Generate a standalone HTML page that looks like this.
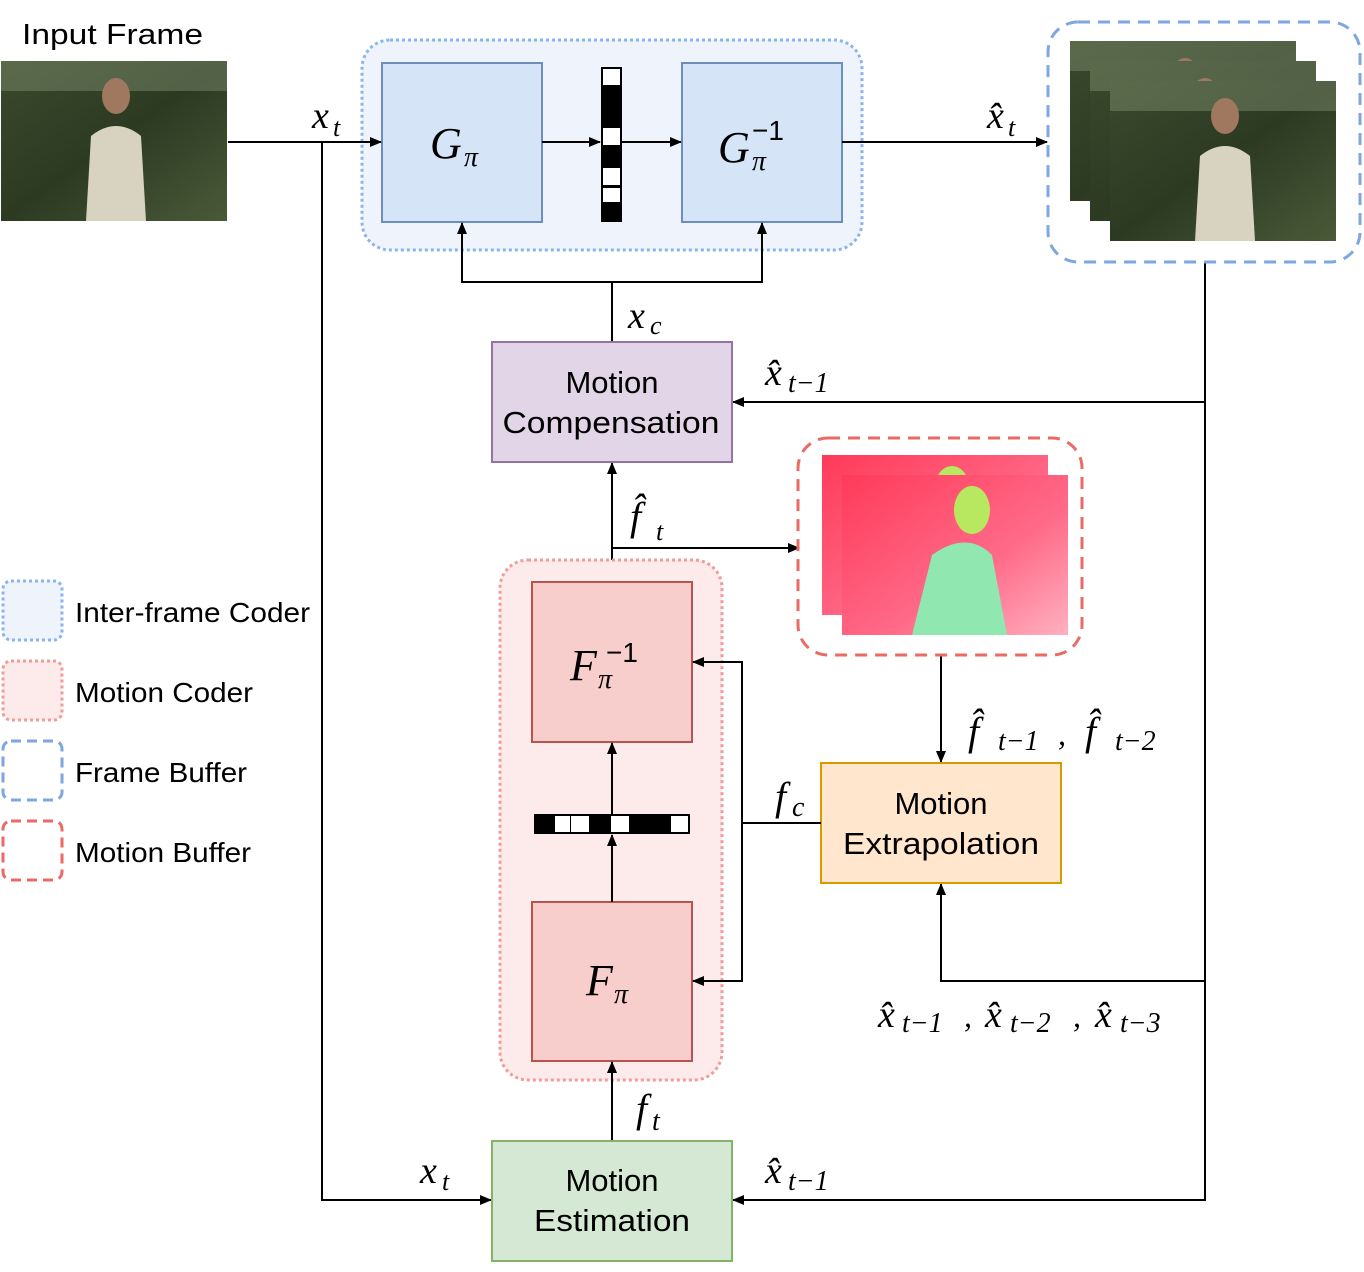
<!DOCTYPE html>
<html><head><meta charset="utf-8"><style>
body{margin:0;background:#fff}
svg text{font-family:"Liberation Sans",sans-serif}
.m{font-family:"Liberation Serif",serif;font-style:italic}
</style></head><body>
<svg width="1364" height="1267" viewBox="0 0 1364 1267" xmlns="http://www.w3.org/2000/svg">
<defs>
<marker id="a" markerWidth="12" markerHeight="10" refX="11" refY="5" orient="auto" markerUnits="userSpaceOnUse"><path d="M0,0 L12,5 L0,10 Z" fill="#000"/></marker>
<linearGradient id="ph" x1="0" y1="0" x2="1" y2="1"><stop offset="0" stop-color="#3b4a2c"/><stop offset="0.5" stop-color="#2c3a22"/><stop offset="1" stop-color="#4a5a38"/></linearGradient>
<linearGradient id="fl" x1="0" y1="0" x2="1" y2="1"><stop offset="0" stop-color="#ff3a5a"/><stop offset="0.6" stop-color="#ff6a88"/><stop offset="1" stop-color="#ffb0c0"/></linearGradient>
<g id="photo">
<rect width="226" height="160" fill="url(#ph)"/>
<rect x="0" y="0" width="226" height="30" fill="#7a8a6a" opacity="0.5"/>
<ellipse cx="115" cy="35" rx="14" ry="18" fill="#a07860"/>
<path d="M85,160 L90,75 Q115,55 140,75 L145,160 Z" fill="#d8d2c0"/>
</g>
<g id="flow">
<rect width="226" height="160" fill="url(#fl)"/>
<ellipse cx="130" cy="35" rx="18" ry="24" fill="#b8e860"/>
<path d="M70,160 L90,80 Q125,55 150,80 L165,160 Z" fill="#90e8b0"/>
</g>
</defs>

<text x="22" y="44" font-size="29" textLength="181" lengthAdjust="spacingAndGlyphs">Input Frame</text>
<use href="#photo" x="1" y="61"/>

<!-- inter-frame coder -->
<rect x="362" y="40" width="500" height="210" rx="28" fill="#eef3fc" stroke="#8ab4f0" stroke-width="3" stroke-dasharray="3,3"/>
<rect x="382" y="63" width="160" height="159" fill="#d6e4f7" stroke="#6c8ebf" stroke-width="2"/>
<rect x="682" y="63" width="160" height="159" fill="#d6e4f7" stroke="#6c8ebf" stroke-width="2"/>
<text class="m" x="430" y="158" font-size="44">G</text><text class="m" x="464" y="166" font-size="28">π</text>
<text class="m" x="718" y="162" font-size="44">G</text><text class="m" x="752" y="170" font-size="28">π</text><text x="752" y="140" font-size="28" font-family="Liberation Serif">−1</text>
<rect x="601" y="67" width="21" height="155" fill="#000"/>
<rect x="603" y="69" width="17" height="16" fill="#fff"/>
<rect x="603" y="128" width="17" height="17" fill="#fff"/>
<rect x="603" y="168" width="17" height="17" fill="#fff"/>
<rect x="603" y="188" width="17" height="14" fill="#fff"/>
<g stroke="#000" stroke-width="2" fill="none">
<line x1="228" y1="142" x2="381" y2="142" marker-end="url(#a)"/>
<line x1="542" y1="142" x2="600" y2="142" marker-end="url(#a)"/>
<line x1="622" y1="142" x2="681" y2="142" marker-end="url(#a)"/>
<line x1="842" y1="142" x2="1047" y2="142" marker-end="url(#a)"/>
<polyline points="322,142 322,1200 491,1200" marker-end="url(#a)"/>
<polyline points="612,342 612,282 462,282 462,223" marker-end="url(#a)"/>
<polyline points="612,282 762,282 762,223" marker-end="url(#a)"/>
<polyline points="1205,262 1205,1200 733,1200" marker-end="url(#a)"/>
<line x1="1205" y1="402" x2="733" y2="402" marker-end="url(#a)"/>
<polyline points="1205,981 941,981 941,884" marker-end="url(#a)"/>
<line x1="612" y1="582" x2="612" y2="463" marker-end="url(#a)"/>
<polyline points="612,548 799,548" marker-end="url(#a)"/>
<line x1="941" y1="655" x2="941" y2="762" marker-end="url(#a)"/>
</g>
<text class="m" x="312" y="128" font-size="38">x</text><text class="m" x="333" y="136" font-size="26">t</text>
<text class="m" x="987" y="128" font-size="38">x̂</text><text class="m" x="1008" y="136" font-size="26">t</text>

<!-- frame buffer -->
<rect x="1048" y="22" width="312" height="240" rx="30" fill="none" stroke="#7ea6e0" stroke-width="3" stroke-dasharray="12,8"/>
<use href="#photo" x="1070" y="41"/>
<use href="#photo" x="1090" y="61"/>
<use href="#photo" x="1110" y="81"/>

<text class="m" x="628" y="328" font-size="38">x</text><text class="m" x="650" y="334" font-size="26">c</text>

<rect x="492" y="342" width="240" height="120" fill="#e1d5e7" stroke="#9673a6" stroke-width="2"/>
<text x="612" y="393" font-size="31" text-anchor="middle">Motion</text>
<text x="611" y="433" font-size="31" text-anchor="middle" textLength="217" lengthAdjust="spacingAndGlyphs">Compensation</text>
<text class="m" x="765" y="385" font-size="38">x̂</text><text class="m" x="788" y="392" font-size="28">t−1</text>

<text class="m" x="630" y="530" font-size="40">f̂</text><text class="m" x="656" y="540" font-size="26">t</text>

<!-- motion buffer -->
<rect x="798" y="438" width="284" height="217" rx="30" fill="none" stroke="#ea6b66" stroke-width="3" stroke-dasharray="12,8"/>
<use href="#flow" x="822" y="455"/>
<use href="#flow" x="842" y="475"/>
<text class="m" x="968" y="745" font-size="40">f̂</text><text class="m" x="998" y="750" font-size="28">t−1</text>
<text class="m" x="1058" y="745" font-size="32">,</text>
<text class="m" x="1085" y="745" font-size="40">f̂</text><text class="m" x="1115" y="750" font-size="28">t−2</text>

<rect x="821" y="763" width="240" height="120" fill="#ffe6cc" stroke="#d79b00" stroke-width="2"/>
<text x="941" y="814" font-size="31" text-anchor="middle">Motion</text>
<text x="941" y="854" font-size="31" text-anchor="middle" textLength="196" lengthAdjust="spacingAndGlyphs">Extrapolation</text>

<!-- motion coder -->
<rect x="500" y="560" width="222" height="520" rx="28" fill="#fdeaea" stroke="#f19c99" stroke-width="3" stroke-dasharray="3,3"/>
<rect x="532" y="582" width="160" height="160" fill="#f8cecc" stroke="#b85450" stroke-width="2"/>
<rect x="532" y="902" width="160" height="159" fill="#f8cecc" stroke="#b85450" stroke-width="2"/>
<text class="m" x="570" y="680" font-size="44">F</text><text class="m" x="598" y="688" font-size="28">π</text><text x="606" y="662" font-size="28" font-family="Liberation Serif">−1</text>
<text class="m" x="586" y="995" font-size="44">F</text><text class="m" x="614" y="1003" font-size="28">π</text>
<rect x="534" y="814" width="156" height="20" fill="#000"/>
<rect x="555" y="816" width="15" height="16" fill="#fff"/>
<rect x="571" y="816" width="18" height="16" fill="#fff"/>
<rect x="611" y="816" width="18" height="16" fill="#fff"/>
<rect x="671" y="816" width="17" height="16" fill="#fff"/>
<g stroke="#000" stroke-width="2" fill="none">
<line x1="612" y1="814" x2="612" y2="743" marker-end="url(#a)"/>
<line x1="612" y1="902" x2="612" y2="835" marker-end="url(#a)"/>
<line x1="612" y1="1141" x2="612" y2="1062" marker-end="url(#a)"/>
<line x1="821" y1="823" x2="742" y2="823"/>
<polyline points="742,823 742,662 693,662" marker-end="url(#a)"/>
<polyline points="742,823 742,981 693,981" marker-end="url(#a)"/>
</g>
<text class="m" x="775" y="810" font-size="40">f</text><text class="m" x="792" y="816" font-size="28">c</text>
<text class="m" x="636" y="1122" font-size="40">f</text><text class="m" x="652" y="1130" font-size="28">t</text>

<text class="m" x="878" y="1027" font-size="38">x̂</text><text class="m" x="902" y="1032" font-size="28">t−1</text>
<text class="m" x="964" y="1027" font-size="32">,</text>
<text class="m" x="985" y="1027" font-size="38">x̂</text><text class="m" x="1010" y="1032" font-size="28">t−2</text>
<text class="m" x="1073" y="1027" font-size="32">,</text>
<text class="m" x="1095" y="1027" font-size="38">x̂</text><text class="m" x="1120" y="1032" font-size="28">t−3</text>

<rect x="492" y="1141" width="240" height="120" fill="#d5e8d4" stroke="#82b366" stroke-width="2"/>
<text x="612" y="1191" font-size="31" text-anchor="middle">Motion</text>
<text x="612" y="1231" font-size="31" text-anchor="middle" textLength="156" lengthAdjust="spacingAndGlyphs">Estimation</text>
<text class="m" x="420" y="1183" font-size="38">x</text><text class="m" x="442" y="1190" font-size="26">t</text>
<text class="m" x="765" y="1183" font-size="38">x̂</text><text class="m" x="788" y="1190" font-size="28">t−1</text>

<!-- legend -->
<rect x="3" y="581" width="59" height="59" rx="8" fill="#eef3fc" stroke="#8ab4f0" stroke-width="3" stroke-dasharray="3,3"/>
<rect x="3" y="661" width="59" height="59" rx="8" fill="#fdeaea" stroke="#f19c99" stroke-width="3" stroke-dasharray="3,3"/>
<rect x="3" y="741" width="59" height="59" rx="8" fill="none" stroke="#7ea6e0" stroke-width="3" stroke-dasharray="10,6"/>
<rect x="3" y="821" width="59" height="59" rx="8" fill="none" stroke="#ea6b66" stroke-width="3" stroke-dasharray="10,6"/>
<text x="75" y="622" font-size="28" textLength="235" lengthAdjust="spacingAndGlyphs">Inter-frame Coder</text>
<text x="75" y="702" font-size="28" textLength="178" lengthAdjust="spacingAndGlyphs">Motion Coder</text>
<text x="75" y="782" font-size="28" textLength="172" lengthAdjust="spacingAndGlyphs">Frame Buffer</text>
<text x="75" y="862" font-size="28" textLength="176" lengthAdjust="spacingAndGlyphs">Motion Buffer</text>
</svg>
</body></html>
